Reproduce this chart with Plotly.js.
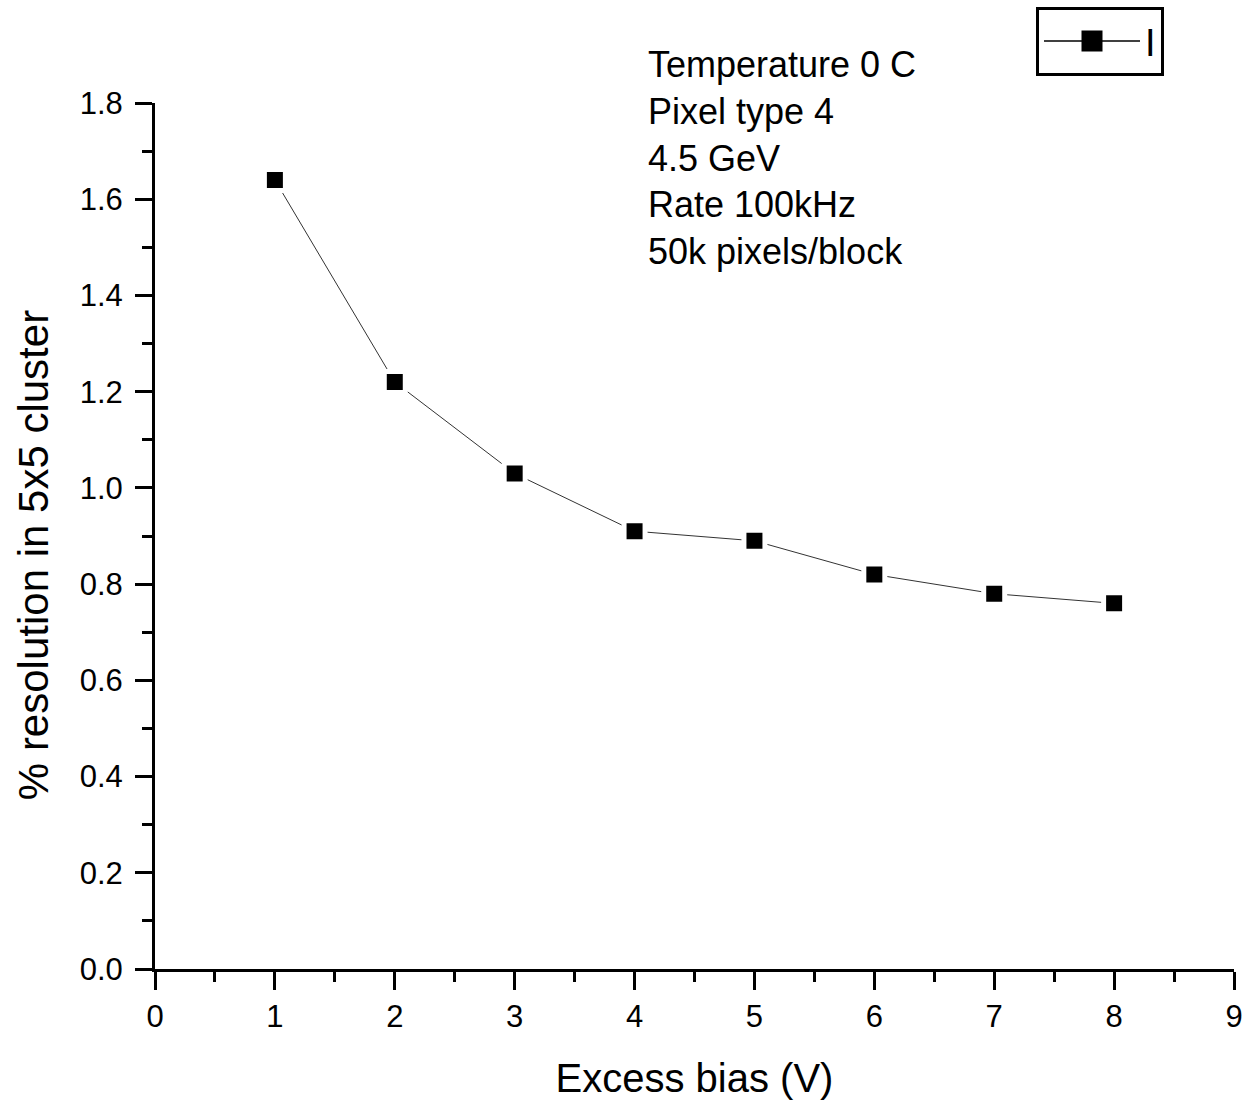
<!DOCTYPE html>
<html>
<head>
<meta charset="utf-8">
<script src="https://cdn.plot.ly/plotly-3.0.1.min.js"></script>
<style>html,body{margin:0;padding:0;background:#fff;}#chart{width:1245px;height:1103px;}</style>
</head>
<body>
<div id="chart"></div>
<script>
const biasV = [1, 2, 3, 4, 5, 6, 7, 8];
const resolution = [1.64, 1.22, 1.03, 0.91, 0.89, 0.82, 0.78, 0.76];
const seriesName = "I";
const infoLines = ["Temperature 0 C", "Pixel type 4", "4.5 GeV", "Rate 100kHz", "50k pixels/block"];
const xTitle = "Excess bias (V)";
const yTitle = "% resolution in 5x5 cluster";

const FONT = "Liberation Sans, Arial, sans-serif";

// data trace (gap around markers like the original, via white marker outline)
const trace = {
  x: biasV,
  y: resolution,
  name: seriesName,
  legendgroup: "s",
  type: "scatter",
  mode: "lines+markers",
  line: {color: "#333333", width: 1},
  marker: {symbol: "square", size: 21, color: "#000000", line: {color: "#ffffff", width: 5}},
  showlegend: false
};
// legend entry for the same series (no points of its own)
const legendEntry = {
  x: [null], y: [null],
  name: seriesName,
  legendgroup: "s",
  type: "scatter",
  mode: "lines+markers",
  line: {color: "#000000", width: 1.5},
  marker: {symbol: "square", size: 16, color: "#000000", line: {color: "#000000", width: 5}},
  showlegend: true,
  hoverinfo: "skip"
};

const layout = {
  width: 1245,
  height: 1103,
  paper_bgcolor: "#ffffff",
  plot_bgcolor: "#ffffff",
  margin: {l: 155, r: 11, t: 103, b: 134, autoexpand: false},
  font: {family: FONT, color: "#000000"},
  showlegend: true,
  legend: {
    x: 0.8165, y: 1.111, xanchor: "left", yanchor: "top",
    bordercolor: "#000000", borderwidth: 3, bgcolor: "#ffffff",
    font: {family: FONT, size: 38, color: "#000000"},
    itemwidth: 96,
    tracegroupgap: 0
  },
  xaxis: {
    range: [0, 9],
    dtick: 1, tick0: 0,
    showgrid: false, zeroline: false,
    showline: true, linecolor: "#000000", linewidth: 3,
    ticks: "outside", ticklen: 18, tickwidth: 3, tickcolor: "#000000",
    minor: {dtick: 0.5, ticks: "outside", ticklen: 10, tickwidth: 3, tickcolor: "#000000", showgrid: false},
    tickfont: {family: FONT, size: 31, color: "#000000"},
    ticklabelstandoff: 0,
    title: {text: xTitle, font: {family: FONT, size: 40, color: "#000000"}, standoff: 31}
  },
  yaxis: {
    range: [0, 1.8],
    dtick: 0.2, tick0: 0,
    tickformat: ".1f",
    showgrid: false, zeroline: false,
    showline: true, linecolor: "#000000", linewidth: 3,
    ticks: "outside", ticklen: 17, tickwidth: 3, tickcolor: "#000000",
    minor: {dtick: 0.1, ticks: "outside", ticklen: 10, tickwidth: 3, tickcolor: "#000000", showgrid: false},
    tickfont: {family: FONT, size: 31, color: "#000000"},
    ticklabelstandoff: 6
  },
  annotations: [{
    xref: "paper", yref: "paper",
    x: 0.455, y: 1.070, xanchor: "left", yanchor: "top",
    align: "left", showarrow: false,
    text: infoLines.join("<br>"),
    font: {family: FONT, size: 36, color: "#000000"}
  }, {
    xref: "paper", yref: "paper",
    x: -0.113, y: 0.478, xanchor: "center", yanchor: "middle",
    textangle: -90, showarrow: false,
    text: yTitle,
    font: {family: FONT, size: 42, color: "#000000"}
  }]
};

Plotly.newPlot("chart", [trace, legendEntry], layout, {displayModeBar: false, staticPlot: true});
</script>
</body>
</html>
